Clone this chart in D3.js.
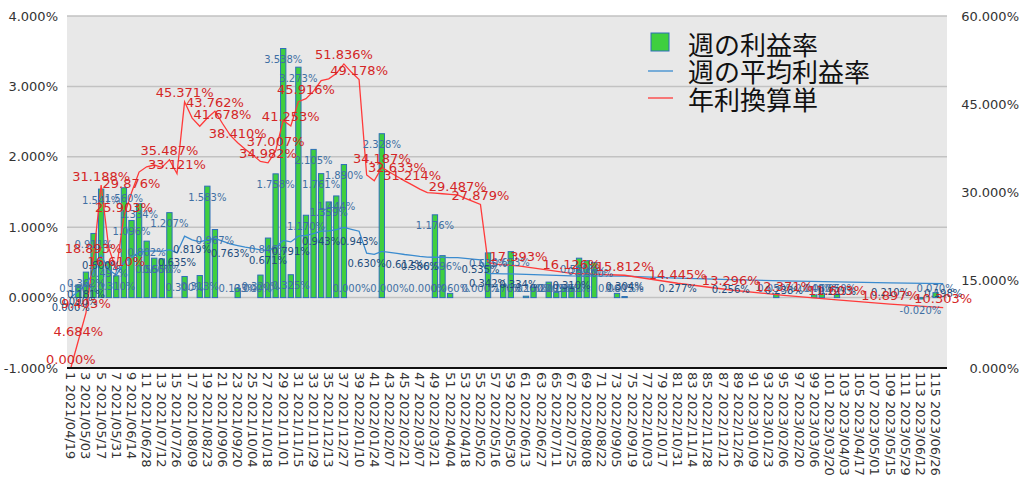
<!DOCTYPE html>
<html><head><meta charset="utf-8">
<script src="https://cdn.jsdelivr.net/npm/d3@7"></script>
<style>body{margin:0;background:#fff;} svg text{font-family:"DejaVu Sans",sans-serif;}</style>
</head><body><svg id="c" width="1024" height="484"></svg>
<script>
const weekLabels = [
"1 2021/04/19","2 2021/04/26","3 2021/05/03","4 2021/05/10","5 2021/05/17","6 2021/05/24","7 2021/05/31","8 2021/06/07","9 2021/06/14","10 2021/06/21",
"11 2021/06/28","12 2021/07/05","13 2021/07/12","14 2021/07/19","15 2021/07/26","16 2021/08/02","17 2021/08/09","18 2021/08/16","19 2021/08/23","20 2021/08/30",
"21 2021/09/06","22 2021/09/13","23 2021/09/20","24 2021/09/27","25 2021/10/04","26 2021/10/11","27 2021/10/18","28 2021/10/25","29 2021/11/01","30 2021/11/08",
"31 2021/11/15","32 2021/11/22","33 2021/11/29","34 2021/12/06","35 2021/12/13","36 2021/12/20","37 2021/12/27","38 2022/01/03","39 2022/01/10","40 2022/01/17",
"41 2022/01/24","42 2022/01/31","43 2022/02/07","44 2022/02/14","45 2022/02/21","46 2022/02/28","47 2022/03/07","48 2022/03/14","49 2022/03/21","50 2022/03/28",
"51 2022/04/04","52 2022/04/11","53 2022/04/18","54 2022/04/25","55 2022/05/02","56 2022/05/09","57 2022/05/16","58 2022/05/23","59 2022/05/30","60 2022/06/06",
"61 2022/06/13","62 2022/06/20","63 2022/06/27","64 2022/07/04","65 2022/07/11","66 2022/07/18","67 2022/07/25","68 2022/08/01","69 2022/08/08","70 2022/08/15",
"71 2022/08/22","72 2022/08/29","73 2022/09/05","74 2022/09/12","75 2022/09/19","76 2022/09/26","77 2022/10/03","78 2022/10/10","79 2022/10/17","80 2022/10/24",
"81 2022/10/31","82 2022/11/07","83 2022/11/14","84 2022/11/21","85 2022/11/28","86 2022/12/05","87 2022/12/12","88 2022/12/19","89 2022/12/26","90 2023/01/02",
"91 2023/01/09","92 2023/01/16","93 2023/01/23","94 2023/01/30","95 2023/02/06","96 2023/02/13","97 2023/02/20","98 2023/02/27","99 2023/03/06","100 2023/03/13",
"101 2023/03/20","102 2023/03/27","103 2023/04/03","104 2023/04/10","105 2023/04/17","106 2023/04/24","107 2023/05/01","108 2023/05/08","109 2023/05/15","110 2023/05/22",
"111 2023/05/29","112 2023/06/05","113 2023/06/12","114 2023/06/19","115 2023/06/26","116 2023/07/03"];

// 週の利益率 (%), one per week; null = no bar
const weeklyReturn = [
null,0.180,0.362,0.911,1.541,0.497,0.310,1.560,1.096,1.334,
0.802,0.560,0.550,1.207,null,0.300,null,0.313,1.583,0.967,
null,null,0.133,null,0.000,0.320,0.846,1.758,3.538,0.325,
3.273,1.170,2.105,1.761,1.359,1.444,1.890,0.000,null,null,
null,2.328,0.000,null,null,null,null,0.000,1.176,0.596,
0.060,null,null,null,0.000,0.635,null,0.170,0.653,null,
0.020,0.150,null,0.220,0.075,0.150,0.152,0.560,0.525,0.500,
null,null,0.060,0.015,null,null,null,null,null,null,
null,null,null,null,null,null,null,null,null,null,
null,null,null,0.050,null,null,null,null,0.040,0.060,
null,0.050,null,null,null,null,null,null,null,null,
null,null,-0.020,null,0.070,null];

// weeks at which the two line series have points
const lineWeeks = [1,2,3,4,5,6,7,8,9,10,11,12,13,14,15,16,17,18,19,20,
21,22,23,24,25,26,27,28,29,30,31,32,33,34,35,36,37,38,39,40,
41,42,43,44,45,46,47,48,49,50,51,52,53,54,55,56,57,58,59,60,
67,74,81,88,95,102,109,116];

// 週の平均利益率 (%)
const avgReturn = [0.000,0.090,0.181,0.363,0.600,0.394,0.319,0.498,0.575,0.642,
0.660,0.665,0.658,0.682,0.635,0.873,0.819,0.792,0.819,0.842,
0.801,0.763,0.739,0.717,0.698,0.677,0.671,0.712,0.812,0.791,
0.873,0.883,0.908,0.943,0.948,0.965,0.997,0.969,0.943,0.630,
0.613,0.657,0.642,0.628,0.612,0.600,0.586,0.575,0.573,0.571,
0.569,0.567,0.556,0.546,0.535,0.342,0.340,0.338,0.337,0.334,
0.310,0.304,0.277,0.256,0.238,0.223,0.210,0.198];

// 年利換算単 (%)
const annualReturn = [0.000,4.684,9.403,18.893,31.188,20.500,16.610,25.903,29.876,33.400,
34.300,34.600,34.200,35.487,33.121,45.371,42.600,41.200,42.600,43.762,
41.678,39.700,38.410,37.300,36.300,35.200,34.982,37.007,42.200,41.253,
45.400,45.916,47.200,49.000,49.300,50.200,51.836,50.400,49.178,32.900,
31.900,34.187,33.400,32.633,31.900,31.214,30.500,29.900,29.800,29.700,
29.600,29.487,28.900,28.400,27.879,18.000,17.700,17.600,17.500,17.393,
16.126,15.812,14.445,13.296,12.371,11.603,10.897,10.303];

const avgLabelWeeks = [1,2,3,5,15,17,22,27,30,34,39,40,45,47,55,56,60,67,74,81,88,95,102,109,116];
const annualLabelWeeks = [1,2,3,4,5,7,8,9,14,15,16,20,21,23,27,28,30,32,37,39,42,44,46,52,55,60,67,74,81,88,95,102,109,116];

const leftTicks = [-1,0,1,2,3,4];
const rightTicks = [0,15,30,45,60];
const legendNames = ["週の利益率","週の平均利益率","年利換算単"];

const svg = d3.select("#c");
const X0 = 67, X1 = 947, Y0 = 16, Y1 = 368;
const weeks = weekLabels.map((d,i)=>i+1);
const x = d3.scaleBand().domain(weeks).range([X0,X1]).paddingInner(0.3).paddingOuter(0.15);
const cx = w => x(w) + x.bandwidth()/2;
const yL = d3.scaleLinear().domain([-1,4]).range([Y1,Y0]);
const yR = d3.scaleLinear().domain([0,60]).range([Y1,Y0]);
const pct = v => v.toFixed(3) + "%";

// plot background
svg.append("rect").attr("x",X0).attr("y",Y0).attr("width",X1-X0).attr("height",Y1-Y0).attr("fill","#e8e8e8");
// gridlines
svg.append("g").selectAll("line").data(leftTicks.filter(t=>t>-1)).join("line")
  .attr("x1",X0).attr("x2",X1).attr("y1",d=>yL(d)).attr("y2",d=>yL(d))
  .attr("stroke","#c2c2c2").attr("stroke-width",1.5);

// bars
const barData = weeklyReturn.map((v,i)=>({w:i+1,v})).filter(d=>d.v!==null);
svg.append("g").selectAll("rect").data(barData).join("rect")
  .attr("x",d=>x(d.w)).attr("width",x.bandwidth())
  .attr("y",d=>yL(Math.max(0,d.v))).attr("height",d=>Math.abs(yL(d.v)-yL(0)))
  .attr("fill","#3fcf3f").attr("stroke","#2d6fb8").attr("stroke-width",1);

// lines
const avgPts = lineWeeks.map((w,i)=>({w,v:avgReturn[i]}));
const annPts = lineWeeks.map((w,i)=>({w,v:annualReturn[i]}));
svg.append("path").datum(avgPts).attr("fill","none").attr("stroke","#3a8bcf").attr("stroke-width",1.3)
  .attr("d",d3.line().x(d=>cx(d.w)).y(d=>yL(d.v)));
svg.append("path").datum(annPts).attr("fill","none").attr("stroke","#ff3a3a").attr("stroke-width",1.3)
  .attr("d",d3.line().x(d=>cx(d.w)).y(d=>yR(d.v)));

// x axis line
svg.append("line").attr("x1",X0).attr("x2",X1).attr("y1",Y1).attr("y2",Y1).attr("stroke","#111").attr("stroke-width",2.2);

// bar labels
svg.append("g").selectAll("text").data(barData).join("text")
  .attr("x",d=>cx(d.w))
  .attr("y",d=> d.v<0 ? yL(d.v)+11 : Math.min(yL(d.v)+11, yL(0)-9))
  .attr("text-anchor","middle").attr("dominant-baseline","central")
  .attr("font-size",10).attr("fill","#3f6fa3").text(d=>pct(d.v));
// avg labels
svg.append("g").selectAll("text").data(avgPts.filter(d=>avgLabelWeeks.includes(d.w))).join("text")
  .attr("x",d=>cx(d.w)).attr("y",d=>yL(d.v)+10)
  .attr("text-anchor","middle").attr("dominant-baseline","central")
  .attr("font-size",10).attr("fill","#234d7c").text(d=>pct(d.v));
// annual labels
svg.append("g").selectAll("text").data(annPts.filter(d=>annualLabelWeeks.includes(d.w))).join("text")
  .attr("x",d=>cx(d.w)).attr("y",d=>yR(d.v)-9)
  .attr("text-anchor","middle").attr("dominant-baseline","central")
  .attr("font-size",13).attr("fill","#d42626").text(d=>pct(d.v));

// axes
const ax = svg.append("g").attr("transform",`translate(${X0-9},0)`)
  .call(d3.axisLeft(yL).tickValues(leftTicks).tickSize(0).tickPadding(0).tickFormat(pct));
const ar = svg.append("g").attr("transform",`translate(1019,0)`)
  .call(d3.axisLeft(yR).tickValues(rightTicks).tickSize(0).tickPadding(0).tickFormat(pct));
const ab = svg.append("g").attr("transform",`translate(0,${Y1+4})`)
  .call(d3.axisBottom(x).tickValues(weeks.filter(w=>w%2===1)).tickSize(0).tickPadding(0).tickFormat(w=>weekLabels[w-1]));
[ax,ar,ab].forEach(g=>{g.select(".domain").remove(); g.selectAll("text").attr("fill","#333").attr("font-family","DejaVu Sans, sans-serif");});
ax.selectAll("text").attr("font-size",13);
ar.selectAll("text").attr("font-size",13);
ab.selectAll("text").attr("font-size",13).attr("transform","rotate(90)")
  .attr("text-anchor","start").attr("x",0).attr("y",0).attr("dy","0.35em");

// legend
const lg = svg.append("g");
lg.append("rect").attr("x",651).attr("y",33).attr("width",18).attr("height",18).attr("fill","#3fcf3f").attr("stroke","#2d6fb8");
lg.append("line").attr("x1",648).attr("x2",673).attr("y1",71).attr("y2",71).attr("stroke","#3a8bcf").attr("stroke-width",1.3);
lg.append("line").attr("x1",648).attr("x2",673).attr("y1",98).attr("y2",98).attr("stroke","#ff3a3a").attr("stroke-width",1.3);
lg.selectAll("text").data(legendNames).join("text")
  .attr("x",688).attr("y",(d,i)=>43+i*27.5).attr("dominant-baseline","central")
  .attr("font-size",26).attr("fill","#111").style("font-family","'Noto Sans CJK JP',sans-serif").text(d=>d);
</script></body></html>
